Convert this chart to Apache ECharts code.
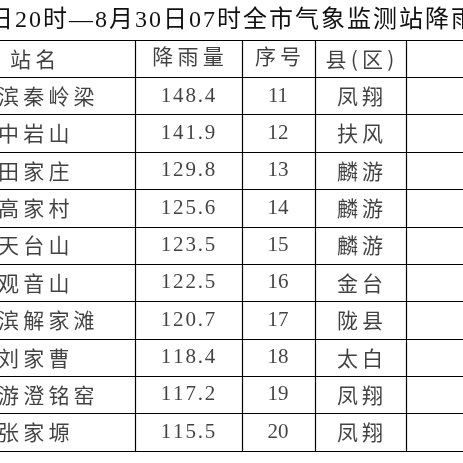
<!DOCTYPE html>
<html><head><meta charset="utf-8">
<script src="https://cdn.jsdelivr.net/npm/echarts@6/dist/echarts.min.js"></script>
<style>html,body{margin:0;background:#fff}#c{width:463px;height:463px}</style>
</head><body><div id="c"></div>
<script>
const titleText = '日20时—8月30日07时全市气象监测站降雨量';
const headers = ['站名', '降雨量', '序号', '县(区)'];
const stations = ['滨秦岭梁', '中岩山', '田家庄', '高家村', '天台山', '观音山', '滨解家滩', '刘家曹', '游澄铭窑', '张家塬'];
const rainfall = ['148.4', '141.9', '129.8', '125.6', '123.5', '122.5', '120.7', '118.4', '117.2', '115.5'];
const orderNo = ['11', '12', '13', '14', '15', '16', '17', '18', '19', '20'];
const counties = ['凤翔', '扶风', '麟游', '麟游', '麟游', '金台', '陇县', '太白', '凤翔', '凤翔'];
const rowCats = ['h'].concat(orderNo);
const colEdges = [135, 242, 315, 406];
const colPos = [0, 188, 278, 360];

const chart = echarts.init(document.getElementById('c'));
const cjk = '"Noto Sans CJK SC", sans-serif';
const serifNum = '"Liberation Serif", "Noto Sans CJK SC", serif';
const spaced = (s, sp) => s.split('').join(sp);
function col(i, vals, align, font, sp) {
  const data = [[colPos[i], 'h', headers[i]]].concat(vals.map((v, k) => [colPos[i], orderNo[k], v]));
  return {
    type: 'scatter', symbolSize: 0, data: data,
    label: {
      show: true, position: align === 'left' ? 'right' : 'inside',
      distance: 0, color: '#111', fontSize: 21, fontFamily: font,
      formatter: p => p.dataIndex === 0 ? spaced(p.data[2], '\u2009') : spaced(p.data[2], sp)
    },
    labelLayout: align === 'left' ? (p => p.dataIndex === 0 ? { dx: 10 } : { dx: -2 }) : null,
    markLine: i === 0 ? {
      silent: true, symbol: 'none', label: { show: false },
      lineStyle: { color: '#000', type: 'solid', width: 1.2 },
      data: colEdges.map(x => ({ xAxis: x }))
    } : undefined
  };
}
chart.setOption({
  animation: false,
  title: { text: spaced(titleText, '\u200a'), left: -16, top: 4, textStyle: { fontSize: 24, fontWeight: 'normal', color: '#111', fontFamily: serifNum } },
  grid: { left: 0, right: 0, top: 40, bottom: 12 },
  xAxis: [
    { type: 'value', min: 0, max: 463, show: false },
    { type: 'value', min: 0, max: 463, position: 'top', axisLabel: { show: false }, axisTick: { show: false }, splitLine: { show: false },
      axisLine: { show: true, lineStyle: { color: '#000', width: 1.2 } } }
  ],
  yAxis: {
    type: 'category', data: rowCats, inverse: true,
    axisLabel: { show: false }, axisTick: { show: false },
    axisLine: { show: false },
    splitLine: { show: true, lineStyle: { color: '#000', width: 1.2 } }
  },
  series: [
    col(0, stations, 'left', cjk, '\u2009'),
    col(1, rainfall, 'center', serifNum, '\u200a'),
    col(2, orderNo, 'center', serifNum, ''),
    col(3, counties, 'center', cjk, '\u2009')
  ]
});
</script></body></html>
